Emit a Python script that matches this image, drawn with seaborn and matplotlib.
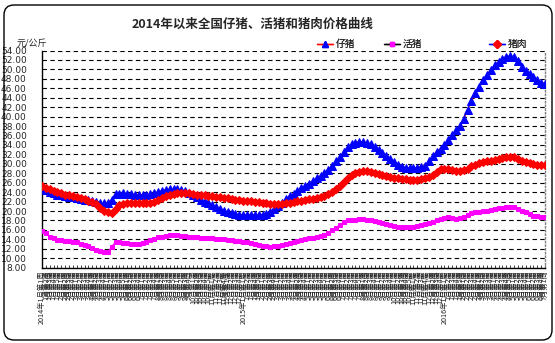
import numpy as np
import pandas as pd
import matplotlib
matplotlib.use("Agg")
import matplotlib.pyplot as plt
import seaborn as sns
from matplotlib.lines import Line2D
from matplotlib.patches import FancyBboxPatch
from matplotlib.transforms import IdentityTransform

# ---------------- data ----------------
title = "2014年以来全国仔猪、活猪和猪肉价格曲线"
y_unit = "元/公斤"
series_names = ["仔猪", "活猪", "猪肉"]

piglet = [24.9, 24.5, 24.1, 23.8, 23.4, 23.3, 23.1, 23.0, 22.9, 22.7,
          22.6, 22.4, 22.3, 22.2, 22.0, 21.8, 21.6, 21.8, 22.4, 23.6,
          23.7, 23.8, 23.7, 23.6, 23.5, 23.5, 23.4, 23.4, 23.6, 23.8,
          24.0, 24.3, 24.5, 24.6, 24.7, 24.6, 24.4, 24.2, 23.9, 23.5,
          23.0, 22.4, 21.9, 21.6, 21.2, 20.9, 20.4, 20.0, 19.7, 19.5,
          19.3, 19.2, 19.2, 19.1, 19.2, 19.1, 19.2, 19.2, 19.4, 19.7,
          20.5, 21.1, 21.8, 22.5, 23.1, 23.7, 24.3, 24.8, 25.3, 25.8,
          26.4, 27.0, 27.5, 28.1, 28.7, 29.6, 30.6, 31.5, 32.5, 33.5,
          34.1, 34.5, 34.7, 34.6, 34.5, 34.1, 33.6, 33.0, 32.3, 31.7,
          31.0, 30.3, 29.8, 29.4, 29.2, 29.1, 29.1, 29.2, 29.4, 29.6,
          30.6, 31.6, 32.6, 33.2, 33.9, 35.0, 36.0, 37.1, 38.0, 39.5,
          41.5, 43.3, 45.0, 46.3, 47.8, 48.8, 49.8, 50.9, 51.6, 52.2,
          52.7, 52.8, 52.6, 51.8, 50.6, 49.6, 49.0, 48.3, 47.7, 47.2,
          46.9]

live_hog = [15.8, 15.4, 14.6, 14.2, 13.9, 13.8, 13.7, 13.6, 13.5, 13.4,
            13.1, 12.8, 12.5, 12.1, 11.8, 11.6, 11.4, 11.3, 12.4, 13.4,
            13.5, 13.3, 13.2, 13.1, 13.0, 13.1, 13.3, 13.5, 13.8, 14.1,
            14.4, 14.6, 14.8, 14.9, 14.9, 14.9, 14.8, 14.7, 14.6, 14.5,
            14.4, 14.3, 14.3, 14.2, 14.2, 14.1, 14.1, 14.0, 13.9, 13.8,
            13.7, 13.6, 13.5, 13.4, 13.2, 13.0, 12.8, 12.6, 12.5, 12.4,
            12.5, 12.6, 12.8, 13.0, 13.2, 13.4, 13.6, 13.8, 14.0, 14.2,
            14.3, 14.5, 14.7, 15.0, 15.4, 15.9, 16.5, 17.1, 17.6, 18.0,
            18.1, 18.2, 18.3, 18.3, 18.2, 18.1, 17.9, 17.7, 17.5, 17.2,
            17.0, 16.8, 16.7, 16.6, 16.6, 16.6, 16.7, 16.8, 17.0, 17.2,
            17.4, 17.7, 18.0, 18.3, 18.5, 18.7, 18.5, 18.3, 18.5, 18.8,
            19.1, 19.5, 19.7, 19.9, 20.0, 20.1, 20.3, 20.4, 20.6, 20.7,
            20.8, 20.9, 20.8, 20.5, 20.1, 19.7, 19.3, 19.0, 18.9, 18.8,
            18.8]

pork = [25.3, 24.9, 24.6, 24.3, 24.1, 23.8, 23.5, 23.3, 23.2, 23.0,
        22.8, 22.5, 22.2, 21.9, 21.4, 20.7, 20.1, 19.7, 19.5, 20.4,
        21.2, 21.5, 21.7, 21.8, 21.8, 21.7, 21.6, 21.6, 21.7, 22.0,
        22.4, 22.7, 23.1, 23.4, 23.7, 23.9, 23.9, 23.9, 23.8, 23.7,
        23.5, 23.5, 23.3, 23.2, 23.1, 23.0, 23.0, 22.8, 22.7, 22.6,
        22.4, 22.3, 22.2, 22.1, 22.1, 22.0, 22.0, 21.8, 21.6, 21.5,
        21.4, 21.4, 21.5, 21.6, 21.8, 21.9, 22.1, 22.2, 22.3, 22.5,
        22.6, 22.8, 22.9, 23.2, 23.6, 24.0, 24.6, 25.3, 26.2, 27.0,
        27.7, 28.1, 28.3, 28.4, 28.4, 28.3, 28.1, 27.9, 27.7, 27.5,
        27.3, 27.1, 26.9, 26.8, 26.7, 26.6, 26.6, 26.6, 26.7, 26.9,
        27.3, 27.7, 28.2, 28.8, 29.0, 28.9, 28.7, 28.5, 28.5, 28.6,
        29.0, 29.5, 29.8, 30.1, 30.3, 30.5, 30.7, 30.9, 31.1, 31.3,
        31.5, 31.5, 31.4, 31.1, 30.7, 30.4, 30.1, 29.9, 29.8, 29.7,
        29.7]

# weekly category labels (one per week, starting 2014-01 week 1)
week_dates = pd.date_range("2014-01-03", periods=len(pork), freq="7D")
week_labels = []
for d in week_dates:
    w = (d.day - 1) // 7 + 1
    lab = f"{d.month}月第{w}周"
    if d.month == 1 and w == 1:
        lab = f"{d.year}年" + lab
    week_labels.append(lab)

y_ticks = list(range(8, 55, 2))

# ---------------- style ----------------
sns.set_style("white")
plt.rcParams["font.family"] = ["Noto Sans CJK SC", "DejaVu Sans"]

W, H = 555, 343
fig = plt.figure(figsize=(W / 100, H / 100), dpi=100)
ax = fig.add_axes([42 / W, 1 - 267.7 / H, (545 - 42) / W, (267.7 - 50.5) / H])

x = np.arange(len(pork))
df = pd.DataFrame({"x": x, "piglet": piglet, "live": live_hog, "pork": pork})

sns.lineplot(data=df, x="x", y="piglet", ax=ax, color="red", lw=1,
             marker="^", markersize=5.5, markerfacecolor="#0000ff",
             markeredgecolor="#0000ff", zorder=4)
sns.lineplot(data=df, x="x", y="live", ax=ax, color="#ff00ff", lw=1,
             marker="s", markersize=3, markerfacecolor="#ff00ff",
             markeredgecolor="#ff00ff", zorder=4)
sns.lineplot(data=df, x="x", y="pork", ax=ax, color="#0000ff", lw=1,
             marker="D", markersize=4.2, markerfacecolor="red",
             markeredgecolor="red", zorder=5)

ax.set_xlim(0, len(pork) - 1)
ax.set_ylim(8, 54)
ax.set_xlabel("")
ax.set_ylabel("")

ax.set_yticks(y_ticks)
ax.set_yticklabels([f"{v:.2f}" for v in y_ticks], fontsize=6.5,
                   family=["DejaVu Sans"])
ax.tick_params(axis="y", length=0, pad=11)

ax.set_xticks(x)
ax.set_xticklabels(week_labels, rotation=90, fontsize=5.2)
ax.tick_params(axis="x", direction="in", length=2, width=0.6, pad=2,
               bottom=True)

ax.yaxis.grid(True, color="black", linestyle=(0, (4, 3)), lw=0.8)
ax.xaxis.grid(False)

for s in ["left", "bottom"]:
    ax.spines[s].set_visible(True)
    ax.spines[s].set_color("black")
    ax.spines[s].set_linewidth(1.0)
ax.spines["top"].set_visible(False)
ax.spines["right"].set_visible(True)
ax.spines["right"].set_color("#808080")
ax.spines["right"].set_linestyle(":")
ax.spines["right"].set_linewidth(1.0)

# legend: three separate entries placed like the reference
handles = [
    Line2D([], [], color="red", lw=1, marker="^", markersize=5,
           markerfacecolor="#0000ff", markeredgecolor="#0000ff"),
    Line2D([], [], color="black", lw=1, marker="s", markersize=3,
           markerfacecolor="#ff00ff", markeredgecolor="#ff00ff"),
    Line2D([], [], color="#0000ff", lw=1, marker="D", markersize=4,
           markerfacecolor="red", markeredgecolor="red"),
]
leg_x = [317, 384, 489]
for h, name, lx in zip(handles, series_names, leg_x):
    lg = fig.legend([h], [name], loc="center left",
                    bbox_to_anchor=(lx / W, 1 - 44 / H),
                    frameon=False, fontsize=7, handlelength=1.6,
                    handletextpad=0.3, borderpad=0, borderaxespad=0)
    fig.add_artist(lg)

# title and unit
fig.text(253 / W, 1 - 24 / H, title, ha="center", va="center",
         fontsize=9, fontweight="bold")
fig.text(17 / W, 1 - 44 / H, y_unit, ha="left", va="center", fontsize=6.5)

# rounded outer border
border = FancyBboxPatch((4, 3), 548, 335,
                        boxstyle="round,pad=0,rounding_size=10",
                        transform=IdentityTransform(), fill=False,
                        ec="black", lw=1.0)
fig.patches.append(border)

fig.savefig("out.png", dpi=100)
